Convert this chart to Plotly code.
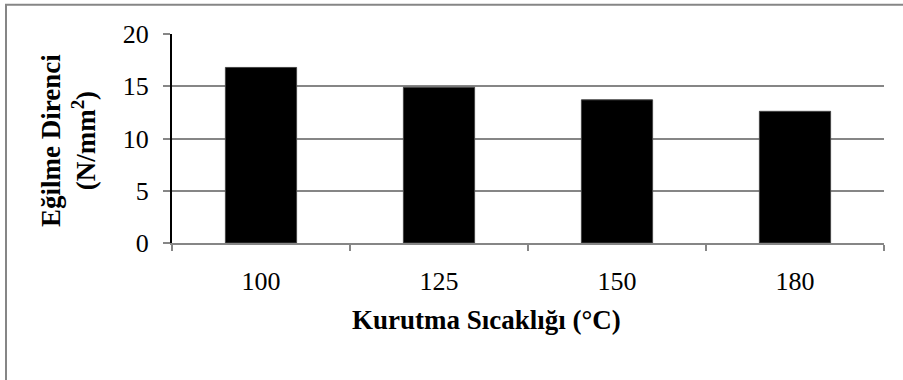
import plotly.graph_objects as go

categories = ["100", "125", "150", "180"]
values = [16.8, 14.9, 13.7, 12.6]
y_ticks = [0, 5, 10, 15, 20]

FONT = "Liberation Serif, Times New Roman, serif"

fig = go.Figure(go.Bar(
    x=categories, y=values,
    marker=dict(color="black", line=dict(color="#444", width=1)),
    width=0.4,
))

fig.update_layout(
    width=903, height=380,
    margin=dict(l=172, r=19, t=33.5, b=136.5),
    paper_bgcolor="white", plot_bgcolor="white",
    showlegend=False,
    font=dict(family=FONT, color="black", size=26),
    xaxis=dict(
        type="category", tickson="boundaries",
        showline=True, linecolor="#868686", linewidth=2,
        ticks="outside", ticklen=6, tickcolor="#868686", tickwidth=2,
        showgrid=False, tickfont=dict(size=26), ticklabelstandoff=14,
    ),
    yaxis=dict(
        range=[0, 20], tickvals=y_ticks,
        showline=True, linecolor="black", linewidth=2,
        ticks="outside", ticklen=7, tickcolor="#868686", tickwidth=2,
        showgrid=True, gridcolor="#868686", gridwidth=2,
        zeroline=False, tickfont=dict(size=26), ticklabelstandoff=9,
    ),
    shapes=[dict(type="rect", xref="paper", yref="paper",
                 x0=-166/712, x1=1.2, y0=-1, y1=(243.5-4)/210,
                 line=dict(color="#868686", width=2), fillcolor="rgba(0,0,0,0)", layer="below")],
    annotations=[
        dict(text="<b>Kurutma Sıcaklığı (°C)</b>", xref="paper", yref="paper",
             x=(486-172)/712, y=-(321-243.5)/210, xanchor="center", yanchor="middle",
             showarrow=False, font=dict(size=27)),
        dict(text="<b>Eğilme Direnci</b><br><b>(N/mm<sup>2</sup>)</b>", xref="paper", yref="paper",
             x=-(172-69)/712, y=(243.5-141)/210, xanchor="center", yanchor="middle",
             textangle=-90, showarrow=False, font=dict(size=27)),
    ],
)

fig.write_html("out.html", config={"displayModeBar": False},
               post_script="document.body.style.margin='0';document.body.style.overflow='hidden';")
